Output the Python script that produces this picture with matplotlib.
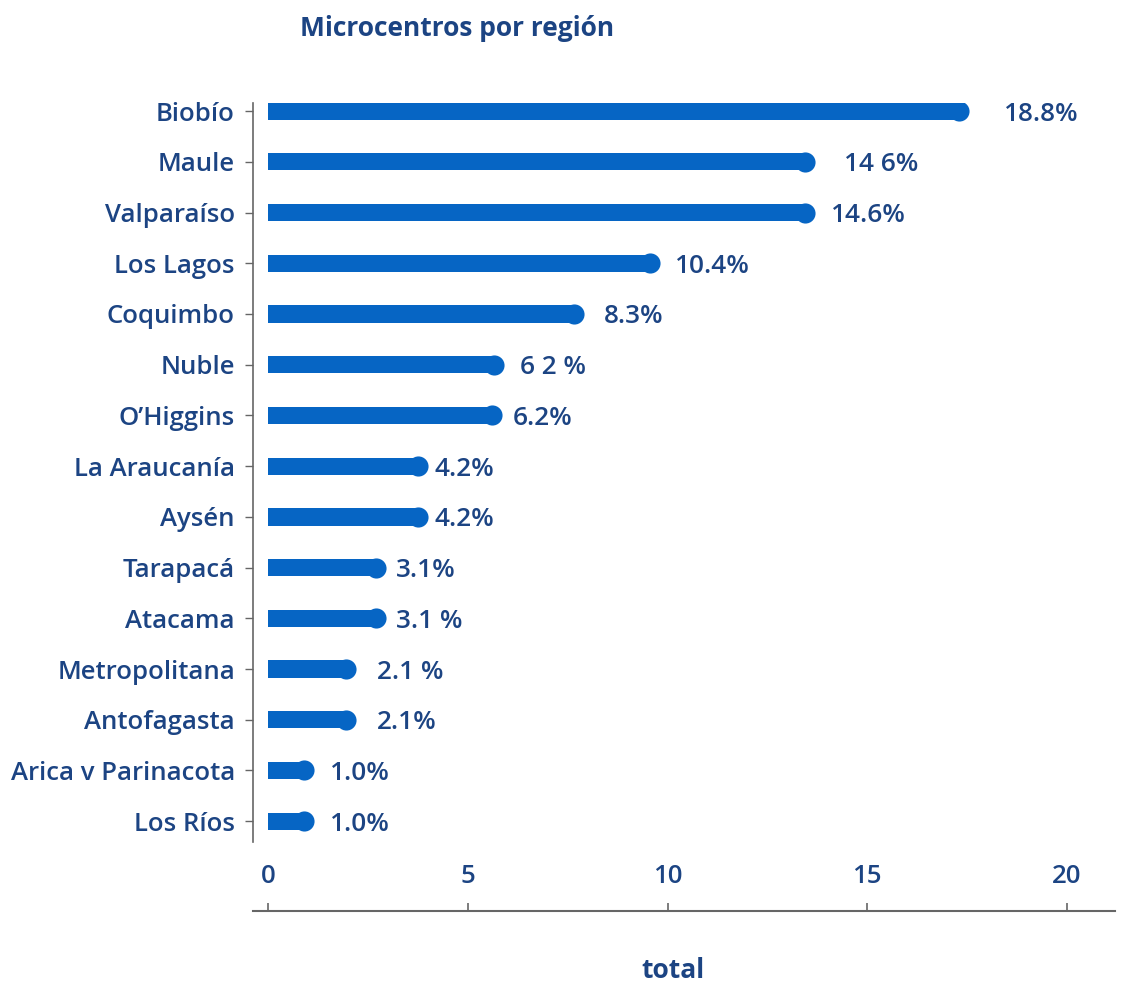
import matplotlib
matplotlib.use('Agg')
import matplotlib.pyplot as plt

regiones = ['Biobío', 'Maule', 'Valparaíso', 'Los Lagos', 'Coquimbo', 'Nuble',
            'O’Higgins', 'La Araucanía', 'Aysén', 'Tarapacá', 'Atacama',
            'Metropolitana', 'Antofagasta', 'Arica v Parinacota', 'Los Ríos']
totales = [17.3, 13.45, 13.45, 9.55, 7.65, 5.65, 5.6, 3.75, 3.75, 2.7, 2.7,
           1.95, 1.95, 0.9, 0.9]
etiquetas = ['18.8%', '14 6%', '14.6%', '10.4%', '8.3%', '6 2 %', '6.2%', '4.2%',
             '4.2%', '3.1%', '3.1 %', '2.1 %', '2.1%', '1.0%', '1.0%']
x_ticks = [0, 5, 10, 15, 20]

# separación de cada etiqueta respecto al círculo (px)
sep_px = [45, 39, 26, 25, 30, 26, 21, 17, 17, 20, 20, 31, 31, 26, 26]

azul = '#0665c4'
texto = '#1c4483'
gris = '#666666'

plt.rcParams['font.family'] = ['Open Sans', 'DejaVu Sans']

fig = plt.figure(figsize=(11.29, 9.83), dpi=100)
ax = fig.add_axes([253 / 1129, 1 - 842 / 983, (1115 - 253) / 1129, (842 - 103) / 983])

pos = list(range(len(regiones)))
ax.barh(pos, totales, height=0.34, color=azul, zorder=2)
ax.scatter(totales, pos, s=210, color=azul, zorder=3, linewidths=0)

for y, v, t, d in zip(pos, totales, etiquetas, sep_px):
    ax.annotate(t, (v, y), xytext=(d, 0), textcoords='offset pixels',
                ha='left', va='center_baseline', fontsize=18.8,
                fontweight='semibold', color=texto)

ax.set_xlim(-0.375, 21.2)
ax.set_ylim(len(regiones) - 1 + 0.41, -0.16)
ax.set_yticks(pos)
ax.set_yticklabels(regiones)
ax.set_xticks(x_ticks)

for s in ['top', 'right']:
    ax.spines[s].set_visible(False)
ax.spines['left'].set_color(gris)
ax.spines['bottom'].set_color(gris)
ax.spines['left'].set_linewidth(1.2)
ax.spines['bottom'].set_linewidth(1.5)
ax.spines['bottom'].set_position(('outward', 49.7))

ax.tick_params(axis='y', length=6, width=1, color=gris, pad=7,
               labelsize=18.5, labelcolor=texto)
ax.tick_params(axis='x', direction='in', length=6, width=1.2, color=gris,
               pad=-34, labelsize=18.5, labelcolor=texto)
for lbl in ax.get_xticklabels() + ax.get_yticklabels():
    lbl.set_fontweight('semibold')

fig.text(457 / 1129, 1 - 28 / 983, 'Microcentros por región', ha='center', va='center',
         fontsize=19, fontweight='bold', color=texto)
fig.text(673 / 1129, 1 - 970 / 983, 'total', ha='center', va='center',
         fontsize=19, fontweight='bold', color=texto)

fig.savefig('out.png', dpi=100)
